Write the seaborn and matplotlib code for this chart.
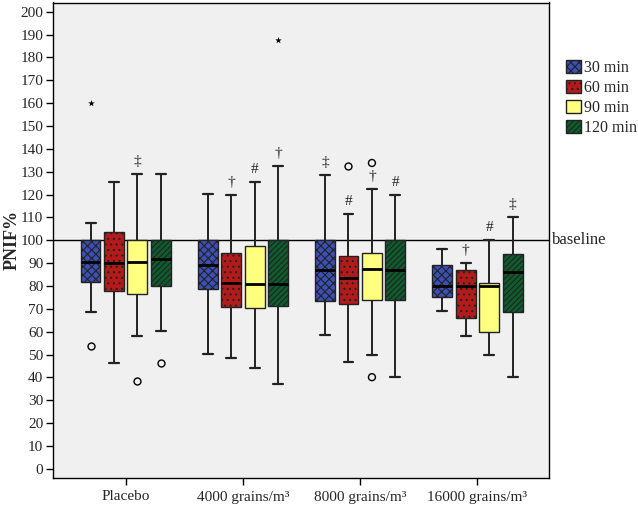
import numpy as np
import pandas as pd
import seaborn as sns
import matplotlib.pyplot as plt
from matplotlib.patches import Patch

groups = ["Placebo", "4000 grains/m³", "8000 grains/m³", "16000 grains/m³"]
times = ["30 min", "60 min", "90 min", "120 min"]

# five-number summaries, one list per time, values per group
low = {"30 min": [68.4, 50.2, 58.5, 68.9], "60 min": [46.3, 48.3, 46.8, 57.9],
       "90 min": [58.3, 43.9, 50.0, 50.0], "120 min": [60.1, 37.1, 40.3, 40.3]}
q1 = {"30 min": [81.8, 78.6, 73.5, 75.1], "60 min": [77.9, 70.8, 72.3, 65.8],
      "90 min": [76.3, 70.5, 73.7, 59.8], "120 min": [80.1, 71.3, 73.7, 68.4]}
med = {"30 min": [90.3, 89.0, 87.0, 80.2], "60 min": [90.0, 81.1, 83.5, 80.1],
       "90 min": [90.3, 81.0, 87.5, 80.2], "120 min": [92.0, 81.0, 87.0, 85.9]}
q3 = {"30 min": [100.0, 100.0, 100.0, 89.0], "60 min": [103.6, 94.4, 92.9, 87.0],
      "90 min": [100.0, 97.6, 94.4, 81.3], "120 min": [100.0, 100.0, 100.0, 94.1]}
high = {"30 min": [107.4, 120.2, 128.7, 96.0], "60 min": [125.3, 120.0, 111.7, 90.2],
        "90 min": [129.0, 125.3, 122.4, 100.0], "120 min": [129.0, 132.3, 120.0, 110.1]}

# outliers (circles) and extremes (stars)
out_group = ["Placebo", "Placebo", "Placebo", "8000 grains/m³", "8000 grains/m³", "8000 grains/m³"]
out_time = ["30 min", "90 min", "120 min", "60 min", "90 min", "90 min"]
out_value = [53.8, 38.5, 46.3, 132.3, 133.8, 40.1]
ext_group = ["Placebo", "4000 grains/m³"]
ext_time = ["30 min", "120 min"]
ext_value = [160.0, 187.4]

# significance marks above the upper whisker
sig_group = ["Placebo", "4000 grains/m³", "4000 grains/m³", "4000 grains/m³",
             "8000 grains/m³", "8000 grains/m³", "8000 grains/m³", "8000 grains/m³",
             "16000 grains/m³", "16000 grains/m³", "16000 grains/m³"]
sig_time = ["90 min", "60 min", "90 min", "120 min",
            "30 min", "60 min", "90 min", "120 min",
            "60 min", "90 min", "120 min"]
sig_mark = ["‡", "†", "#", "†", "‡", "#", "†", "#", "†", "#", "‡"]

colors = {"30 min": "#3b4fb5", "60 min": "#b31b1b", "90 min": "#ffff80", "120 min": "#0d5c2c"}
hatches = {"30 min": "xxxx", "60 min": "...", "90 min": "", "120 min": "//////"}

rows = []
for t in times:
    for i, g in enumerate(groups):
        for v in (low[t][i], q1[t][i], med[t][i], q3[t][i], high[t][i]):
            rows.append({"group": g, "time": t, "value": v})
df = pd.DataFrame(rows)
df_out = pd.DataFrame({"group": out_group, "time": out_time, "value": out_value})
df_ext = pd.DataFrame({"group": ext_group, "time": ext_time, "value": ext_value})

sns.set_theme(style="ticks")
plt.rcParams["font.family"] = ["Liberation Serif", "DejaVu Serif"]
plt.rcParams["hatch.linewidth"] = 0.8

fig = plt.figure(figsize=(6.38, 5.05), dpi=100)
ax = fig.add_axes([53 / 638, 1 - 478 / 505, 496 / 638, 475.5 / 505])
ax.set_facecolor("#f0f0f0")

ax.axhline(100, color="black", lw=1, zorder=1)

sns.boxplot(data=df, x="group", y="value", hue="time", order=groups, hue_order=times,
            palette=colors, saturation=1, whis=np.inf, width=0.8, gap=0.15,
            linecolor="#222222", linewidth=1, legend=False, ax=ax,
            medianprops=dict(color="black", linewidth=2),
            whiskerprops=dict(color="#222222", linewidth=1.4),
            capprops=dict(color="#222222", linewidth=1.6))

# one box per (time, group); match each patch to its time by fill colour
for p in ax.patches:
    fc = p.get_facecolor()
    for t in times:
        if np.allclose(fc[:3], plt.matplotlib.colors.to_rgb(colors[t]), atol=0.02):
            p.set_hatch(hatches[t])
            p.set_edgecolor("#222222")

sns.stripplot(data=df_out, x="group", y="value", hue="time", order=groups, hue_order=times,
              palette={t: "#f0f0f0" for t in times}, dodge=True, jitter=False,
              size=5, linewidth=1, edgecolor="black", legend=False, ax=ax, zorder=5)
sns.stripplot(data=df_ext, x="group", y="value", hue="time", order=groups, hue_order=times,
              palette={t: "black" for t in times}, dodge=True, jitter=False,
              marker="*", size=5, linewidth=0, legend=False, ax=ax, zorder=5)

offsets = np.linspace(-0.3, 0.3, len(times))
for g, t, m in zip(sig_group, sig_time, sig_mark):
    i, j = groups.index(g), times.index(t)
    ax.annotate(m, (i + offsets[j], high[t][i]), xytext=(0, 9), textcoords="offset points",
                ha="center", va="center", fontsize=11, color="#222222")

ax.set_xlim(-0.62, 3.61)
ax.set_ylim(-4, 204)
ax.set_yticks(np.arange(0, 201, 10))
ax.set_xlabel("")
ax.set_ylabel("PNIF%", fontsize=13, fontweight="bold", labelpad=0)
ax.tick_params(axis="both", direction="out", length=5, width=1, color="black", labelsize=11, pad=2)
ax.tick_params(axis="x", pad=4)
for s in ax.spines.values():
    s.set_visible(True)
    s.set_color("black")
    s.set_linewidth(1)

ax.text(1.006, 100, "baseline", transform=ax.get_yaxis_transform(), va="center", ha="left",
        fontsize=12)

handles = [Patch(facecolor=colors[t], hatch=hatches[t], edgecolor="#222222", lw=1) for t in times]
fig.legend(handles, times, loc="upper left", bbox_to_anchor=(566 / 638, 1 - 60 / 505),
           bbox_transform=fig.transFigure, frameon=False, fontsize=11.5, borderpad=0,
           borderaxespad=0, handlelength=0.95, handleheight=0.85, handletextpad=0.2,
           labelspacing=0.25)

fig.savefig("out.png", dpi=100)
